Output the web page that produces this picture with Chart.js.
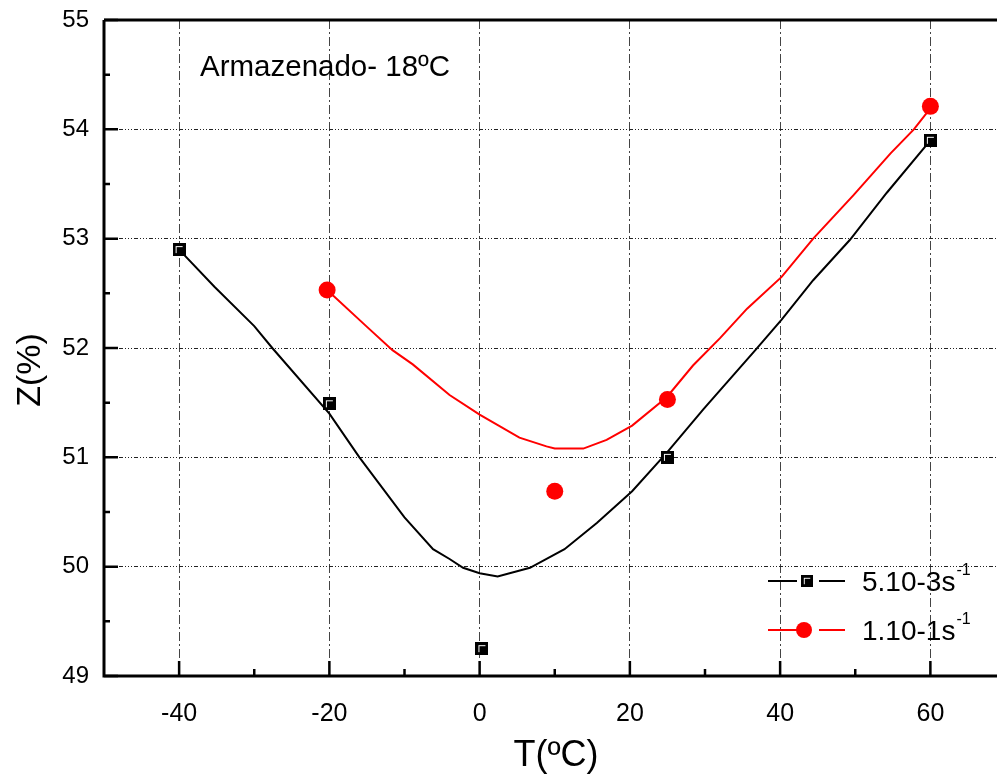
<!DOCTYPE html>
<html>
<head>
<meta charset="utf-8">
<script src="https://cdn.jsdelivr.net/npm/chart.js@4"></script>
<style>
  html, body { margin: 0; padding: 0; background: #fff; overflow: hidden; }
  #wrap { width: 1014px; height: 774px; }
</style>
</head>
<body>
<div id="wrap"><canvas id="chart" width="1014" height="774"></canvas></div>
<script>
// measured points
var blackT = [-40, -20, 0.3, 25, 60];
var blackZ = [52.9, 51.49, 49.25, 51.0, 53.9];
var redT = [-20.3, 10, 25, 60];
var redZ = [52.53, 50.69, 51.53, 54.21];

// fitted curves
var blackFitT = [-40, -35.3, -30, -27.6, -20, -16, -10, -6.2, -4, -2.2, 0, 2.4, 6.7, 11.3, 15.6, 20.3, 24.9, 29.8, 36.7, 40.2, 44.4, 49.3, 54.2, 60];
var blackFitZ = [52.9, 52.56, 52.2, 52.0, 51.4, 51.0, 50.45, 50.16, 50.07, 49.99, 49.94, 49.91, 49.99, 50.16, 50.4, 50.69, 51.04, 51.44, 51.98, 52.26, 52.62, 52.99, 53.42, 53.9];
var redFitT = [-20.3, -15.1, -11.6, -8.9, -4, 0, 5.3, 8.9, 10, 13.8, 16.9, 20.3, 24.9, 28.4, 32, 35.6, 40.2, 44.4, 49.8, 54.7, 57.8, 60.2];
var redFitZ = [52.53, 52.2, 51.98, 51.85, 51.57, 51.39, 51.18, 51.1, 51.08, 51.08, 51.16, 51.29, 51.55, 51.84, 52.09, 52.36, 52.65, 53.0, 53.4, 53.78, 54.0, 54.21];

// ticks
var xTicks = [-40, -20, 0, 20, 40, 60];
var xMinor = [-30, -10, 10, 30, 50];
var yTicks = [49, 50, 51, 52, 53, 54, 55];
var yMinor = [49.5, 50.5, 51.5, 52.5, 53.5, 54.5];

var seriesNames = ['5.10-3s', '1.10-1s'];
var FONT = "'Liberation Sans', Arial, sans-serif";

function pts(xs, ys) {
    return xs.map(function (x, i) { return { x: x, y: ys[i] }; });
}

function makeSquare() {
    var c = document.createElement('canvas');
    c.width = 13; c.height = 13;
    var g = c.getContext('2d');
    g.fillStyle = '#000';
    g.fillRect(0, 0, 13, 13);
    g.fillStyle = '#fff';
    g.fillRect(3, 3, 7, 1);
    g.fillRect(3, 3, 1, 7);
    return c;
}
var squareImg = makeSquare();

var framePlugin = {
    id: 'frame',
    afterDraw: function (chart) {
        var ctx = chart.ctx;
        var a = chart.chartArea;
        var xs = chart.scales.x, ys = chart.scales.y;
        ctx.save();
        ctx.strokeStyle = '#000';
        ctx.lineWidth = 3;
        ctx.beginPath();
        ctx.moveTo(a.left, a.top);
        ctx.lineTo(a.left, a.bottom);
        ctx.lineTo(a.right, a.bottom);
        ctx.moveTo(a.left, a.top);
        ctx.lineTo(a.right, a.top);
        ctx.stroke();

        ctx.lineWidth = 2.5;
        ctx.beginPath();
        xTicks.forEach(function (v) {
            var p = xs.getPixelForValue(v);
            ctx.moveTo(p, a.bottom); ctx.lineTo(p, a.bottom - 15);
        });
        xMinor.forEach(function (v) {
            var p = xs.getPixelForValue(v);
            ctx.moveTo(p, a.bottom); ctx.lineTo(p, a.bottom - 7);
        });
        yTicks.forEach(function (v) {
            var p = ys.getPixelForValue(v);
            ctx.moveTo(a.left, p); ctx.lineTo(a.left + 14, p);
        });
        yMinor.forEach(function (v) {
            var p = ys.getPixelForValue(v);
            ctx.moveTo(a.left, p); ctx.lineTo(a.left + 6, p);
        });
        ctx.stroke();

        // texts
        ctx.fillStyle = '#000';
        ctx.textBaseline = 'alphabetic';
        ctx.font = '29.5px ' + FONT;
        ctx.textAlign = 'left';
        ctx.fillText('Armazenado- 18ºC', 200, 76);

        ctx.font = '36px ' + FONT;
        ctx.textAlign = 'center';
        ctx.fillText('T(ºC)', 556, 766);

        ctx.save();
        ctx.translate(40, 370);
        ctx.rotate(-Math.PI / 2);
        ctx.font = '34px ' + FONT;
        ctx.textAlign = 'center';
        ctx.fillText('Z(%)', 0, 0);
        ctx.restore();

        // legend
        var rows = [
            { y: 581, color: '#000', square: true },
            { y: 630, color: '#ff0000', square: false }
        ];
        rows.forEach(function (r, i) {
            ctx.strokeStyle = r.color;
            ctx.lineWidth = 2;
            ctx.beginPath();
            ctx.moveTo(768, r.y); ctx.lineTo(797, r.y);
            ctx.moveTo(819, r.y); ctx.lineTo(845, r.y);
            ctx.stroke();
            if (r.square) {
                ctx.drawImage(squareImg, 801, r.y - 6, 12, 12);
            } else {
                ctx.fillStyle = r.color;
                ctx.beginPath();
                ctx.arc(804, r.y, 8, 0, Math.PI * 2);
                ctx.fill();
            }
            ctx.fillStyle = '#000';
            ctx.textAlign = 'left';
            ctx.font = '28px ' + FONT;
            ctx.fillText(seriesNames[i], 862, r.y + 10);
            var w = ctx.measureText(seriesNames[i]).width;
            ctx.font = '16px ' + FONT;
            ctx.fillText('-1', 862 + w + 1, r.y - 6);
        });
        ctx.restore();
    }
};

new Chart(document.getElementById('chart'), {
    type: 'scatter',
    data: {
        datasets: [
            {
                label: 'fit ' + seriesNames[0],
                data: pts(blackFitT, blackFitZ),
                showLine: true,
                borderColor: '#000',
                borderWidth: 2,
                pointRadius: 0,
                tension: 0,
                order: 2
            },
            {
                label: 'fit ' + seriesNames[1],
                data: pts(redFitT, redFitZ),
                showLine: true,
                borderColor: '#ff0000',
                borderWidth: 2,
                pointRadius: 0,
                tension: 0,
                order: 2
            },
            {
                label: seriesNames[0],
                data: pts(blackT, blackZ),
                pointStyle: squareImg,
                pointRadius: 7,
                order: 1
            },
            {
                label: seriesNames[1],
                data: pts(redT, redZ),
                pointStyle: 'circle',
                pointRadius: 8.5,
                backgroundColor: '#ff0000',
                borderColor: '#ff0000',
                borderWidth: 0,
                order: 1
            }
        ]
    },
    options: {
        responsive: false,
        animation: false,
        events: [],
        layout: { padding: { top: 20, right: 0, left: 0, bottom: 0 } },
        plugins: {
            legend: { display: false },
            tooltip: { enabled: false }
        },
        scales: {
            x: {
                type: 'linear',
                min: -50,
                max: 70,
                afterFit: function (s) {
                    s.height = 98;
                    s.paddingLeft = 0; s.paddingRight = 0;
                },
                afterBuildTicks: function (s) {
                    s.ticks = xTicks.map(function (v) { return { value: v }; });
                },
                grid: { color: '#444', lineWidth: 1, drawTicks: false },
                border: { display: false, dash: [9, 3, 2, 3] },
                ticks: {
                    padding: 23,
                    color: '#000',
                    maxRotation: 0,
                    font: { family: FONT, size: 25 }
                }
            },
            y: {
                min: 49,
                max: 55,
                afterFit: function (s) {
                    s.width = 104;
                    s.paddingTop = 0; s.paddingBottom = 0;
                },
                afterBuildTicks: function (s) {
                    s.ticks = yTicks.map(function (v) { return { value: v }; });
                },
                grid: { color: '#222', lineWidth: 1, drawTicks: false },
                border: { display: false, dash: [4, 2, 1, 2, 1, 2, 1, 2] },
                ticks: {
                    padding: 15,
                    color: '#000',
                    font: { family: FONT, size: 24 }
                }
            }
        }
    },
    plugins: [framePlugin]
});
</script>
</body>
</html>
